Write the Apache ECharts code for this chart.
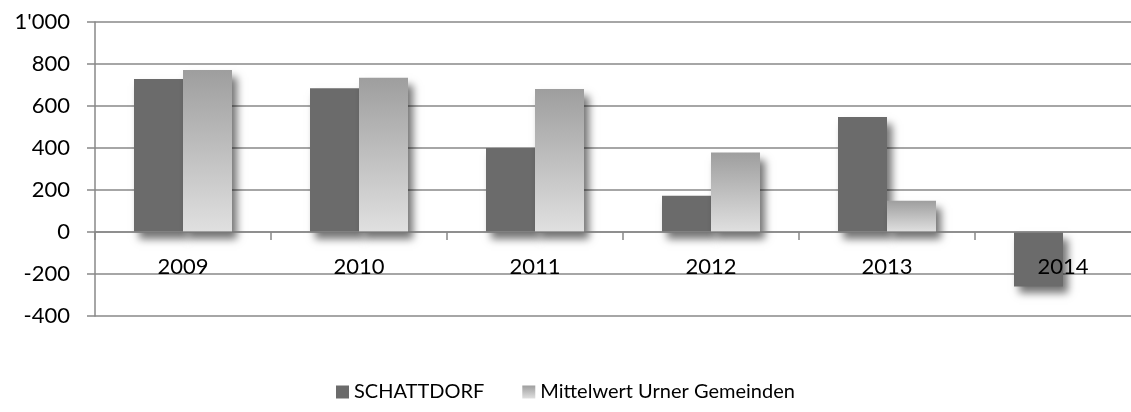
<!DOCTYPE html>
<html><head><meta charset="utf-8">
<script src="https://cdn.jsdelivr.net/npm/echarts@6/dist/echarts.min.js"></script>
<style>html,body{margin:0;padding:0;background:#fff}#c{width:1131px;height:412px}</style>
</head><body><div id="c"></div>
<script>
const categories = ['2009','2010','2011','2012','2013','2014'];
const schattdorf = [728, 684, 400, 173, 548, -259];
const mittelwert = [771, 735, 681, 378, 149, null];
const seriesNames = ['SCHATTDORF', 'Mittelwert Urner Gemeinden'];
const yTicks = [-400, -200, 0, 200, 400, 600, 800, 1000];

const FONT = 'Lato';
const chart = echarts.init(document.getElementById('c'));
const shadow = {shadowColor:'rgba(0,0,0,0.55)', shadowBlur:8, shadowOffsetX:5, shadowOffsetY:7};
chart.setOption({
  animation:false,
  textStyle:{fontFamily:FONT},
  legend:{
    bottom:5, left:331, itemWidth:13, itemHeight:13, itemGap:38,
    icon:'rect',
    textStyle:{fontFamily:FONT, fontSize:20, color:'#000'},
    data:seriesNames
  },
  grid:{left:95, top:22, right:-20, height:294, containLabel:false, outerBoundsMode:'none'},
  xAxis:{
    type:'category', data:categories, z:10,
    axisLine:{onZero:true, lineStyle:{color:'#888', width:1.5}},
    axisTick:{show:true, length:8, lineStyle:{color:'#888', width:1.5}},
    axisLabel:{fontFamily:FONT, fontSize:22, color:'#000', margin:-60}
  },
  yAxis:{
    type:'value', min:-400, max:1000, interval:200,
    axisLine:{show:true, lineStyle:{color:'#888', width:1.5}},
    axisTick:{show:true, length:8, lineStyle:{color:'#888', width:1.5}},
    splitLine:{lineStyle:{color:'#888', width:1.5}},
    axisLabel:{fontFamily:FONT, fontSize:22, color:'#000', margin:25,
      formatter:v => yTicks.includes(v) ? String(v).replace(/\B(?=(\d{3})+(?!\d))/g, "'") : ''}
  },
  series:[
    {name:seriesNames[0], type:'bar', data:schattdorf, barWidth:49, barGap:'0%',
      itemStyle:Object.assign({color:'#6b6b6b'}, shadow)},
    {name:seriesNames[1], type:'bar', data:mittelwert, barWidth:49,
      itemStyle:Object.assign({color:new echarts.graphic.LinearGradient(0,0,0,1,[
        {offset:0,color:'#9e9e9e'},{offset:1,color:'#e0e0e0'}])}, shadow)}
  ]
});
</script></body></html>
